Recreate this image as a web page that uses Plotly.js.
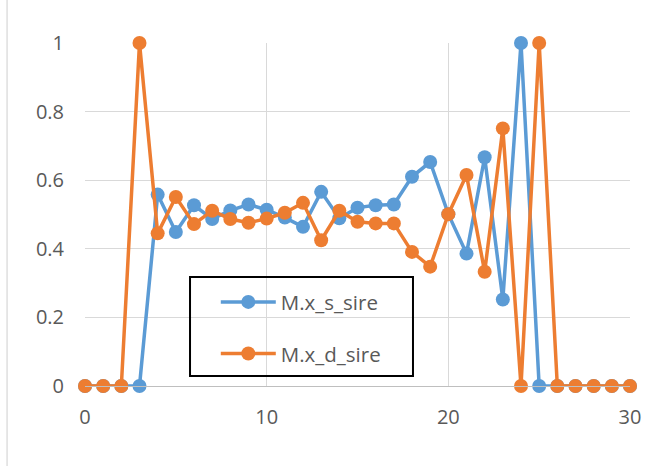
<!DOCTYPE html>
<html>
<head>
<meta charset="utf-8">
<script src="https://cdn.plot.ly/plotly-3.0.1.min.js"></script>
<style>
html,body{margin:0;padding:0;background:#fff;}
#chart{width:670px;height:466px;}
</style>
</head>
<body>
<div id="chart"></div>
<script>
const xValues = [0,1,2,3,4,5,6,7,8,9,10,11,12,13,14,15,16,17,18,19,20,21,22,23,24,25,26,27,28,29,30];
const sSire = [0,0,0,0,0.558,0.449,0.527,0.487,0.512,0.529,0.514,0.491,0.464,0.566,0.489,0.520,0.527,0.529,0.610,0.653,0.501,0.386,0.667,0.252,1,0,0,0,0,0,0];
const dSire = [0,0,0,1,0.445,0.551,0.472,0.511,0.487,0.476,0.488,0.505,0.534,0.425,0.511,0.479,0.474,0.474,0.391,0.348,0.501,0.615,0.333,0.751,0,1,0,0,0,0,0];
const seriesNames = ["M.x_s_sire","M.x_d_sire"];
const xTicks = [0,10,20,30];
const yTicks = [0,0.2,0.4,0.6,0.8,1];
const yTickText = ["0","0.2","0.4","0.6","0.8","1"];

const font = {family:"Open Sans, Liberation Sans, sans-serif", size:20, color:"#595959"};

const traces = [
  {x:xValues, y:sSire, name:seriesNames[0], type:"scatter", mode:"lines+markers", cliponaxis:false,
   line:{color:"#5B9BD5", width:3.5}, marker:{color:"#5B9BD5", size:14}, legendgroup:"a"},
  {x:xValues, y:dSire, name:seriesNames[1], type:"scatter", mode:"lines+markers", cliponaxis:false,
   line:{color:"#ED7D31", width:3.5}, marker:{color:"#ED7D31", size:14}, legendgroup:"b"}
];

const layout = {
  width:670, height:466,
  margin:{l:85, r:40, t:43, b:80},
  paper_bgcolor:"#fff", plot_bgcolor:"#fff",
  font:font,
  showlegend:true,
  legend:{x:0.240, y:0.303, xanchor:"left", yanchor:"top",
    borderwidth:0, bgcolor:"rgba(0,0,0,0)",
    font:{family:font.family, size:20.5, color:"#595959"},
    traceorder:"grouped", tracegroupgap:22, itemwidth:55},
  xaxis:{range:[0,30], tickvals:xTicks, ticktext:xTicks.map(String),
    showgrid:true, gridcolor:"#D9D9D9", gridwidth:1.3,
    zeroline:false, showline:true, linecolor:"#BFBFBF", linewidth:1.3,
    ticks:"", ticklabelstandoff:13, fixedrange:true},
  yaxis:{range:[0,1], tickvals:yTicks, ticktext:yTickText,
    showgrid:true, gridcolor:"#D9D9D9", gridwidth:1.3,
    zeroline:false, showline:false, ticks:"", ticklabelstandoff:20, fixedrange:true},
  shapes:[
    {type:"line", xref:"paper", yref:"paper", x0:-0.143, x1:-0.143, y0:-0.24, y1:1.13,
     line:{color:"#D9D9D9", width:1.3}},
    {type:"rect", xref:"paper", yref:"paper", x0:0.1927, x1:0.6018, y0:0.029, y1:0.318,
     line:{color:"#000", width:2}, fillcolor:"rgba(0,0,0,0)", layer:"above"}
  ]
};

Plotly.newPlot("chart", traces, layout, {displayModeBar:false, staticPlot:true});
</script>
</body>
</html>
